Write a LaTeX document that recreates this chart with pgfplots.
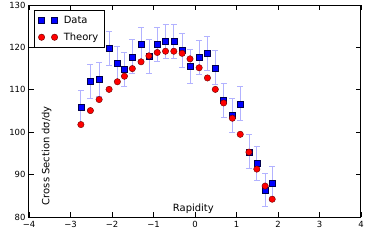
\documentclass[border=0pt]{standalone}
\usepackage{fontspec}
\setmainfont{DejaVu Sans}
\usepackage{pgfplots}
\usepackage{pgfplotstable}
\pgfplotsset{compat=1.18}
\definecolor{errblue}{rgb}{0.7,0.7,1}
\pgfplotstableread{
x y e
-2.75 105.8 4
-2.52 112.0 4
-2.31 112.4 4
-2.07 119.8 4
-1.87 116.3 4
-1.70 114.8 4
-1.51 117.8 4
-1.30 120.8 4
-1.11 117.9 4
-0.91 120.8 4
-0.71 121.4 4
-0.51 121.4 4
-0.31 119.4 4
-0.12 115.6 4
0.10 117.7 4
0.30 118.6 4
0.49 115.2 4
0.69 107.5 4
0.90 103.9 4
1.09 106.7 4
1.30 95.4 4
1.49 92.6 4
1.69 86.4 4
1.86 87.9 4
}\datatable
\pgfplotstableread{
x y
-2.75 101.8
-2.52 105.1
-2.31 107.7
-2.07 110.1
-1.87 111.9
-1.70 113.2
-1.51 115.0
-1.30 116.6
-1.11 118.0
-0.91 118.8
-0.71 119.1
-0.51 119.1
-0.31 118.6
-0.12 117.3
0.10 115.2
0.30 112.8
0.49 110.1
0.69 106.9
0.90 103.3
1.09 99.5
1.30 95.3
1.49 91.3
1.69 87.3
1.86 84.2
}\theorytable
\begin{document}
\begin{tikzpicture}
\path[use as bounding box] (-29bp,-24bp) rectangle (345bp,217bp);
\begin{axis}[
  at={(0,0)}, anchor=south west,
  scale only axis, width=332bp, height=212bp,
  xmin=-4, xmax=4, ymin=80, ymax=130,
  xtick={-4,-3,...,4},
  xticklabels={−4,−3,−2,−1,0,1,2,3,4},
  ytick={80,90,...,130},
  tick align=inside, tick pos=both,
  major tick length=4.5bp,
  axis line style={line width=1bp, black},
  every tick/.style={black, line width=0.8bp},
  tick label style={font=\fontsize{8.5}{10}\selectfont},
  xticklabel style={yshift=-1bp},
  /pgf/number format/assume math mode=true,
  legend style={at={(axis cs:-3.88,128.8)}, anchor=north west,
    draw=black, line width=0.8bp, fill=white,
    font=\fontsize{10}{12}\selectfont,
    inner xsep=4bp, inner ysep=3.5bp, row sep=4bp, column sep=4bp,
    cells={anchor=west}},
  legend image code/.code={\draw[#1,only marks] plot coordinates {(0bp,0bp) (13bp,0bp)};},
  clip=false,
]
\addplot[only marks, mark=square*, mark size=3bp,
  mark options={fill=blue, draw=black!70!blue, line width=0.4bp},
  error bars/.cd, y dir=both, y explicit,
  error bar style={errblue, line width=0.8bp},
  error mark options={errblue, mark size=3bp, line width=0.8bp, rotate=90}]
  table[x=x, y=y, y error=e] {\datatable};
\addlegendentry{Data}
\addplot[only marks, mark=*, mark size=3.2bp,
  mark options={fill=red, draw=black!60!red, line width=0.4bp}]
  table[x=x, y=y] {\theorytable};
\addlegendentry{Theory}
\node[rotate=90, anchor=base west, font=\fontsize{10}{12}\selectfont] at (axis cs:-3.51,82.0) {Cross Section dσ/dy};
\node[anchor=base, font=\fontsize{10}{12}\selectfont] at (axis cs:-0.04,81.3) {Rapidity};
\end{axis}
\end{tikzpicture}
\end{document}
